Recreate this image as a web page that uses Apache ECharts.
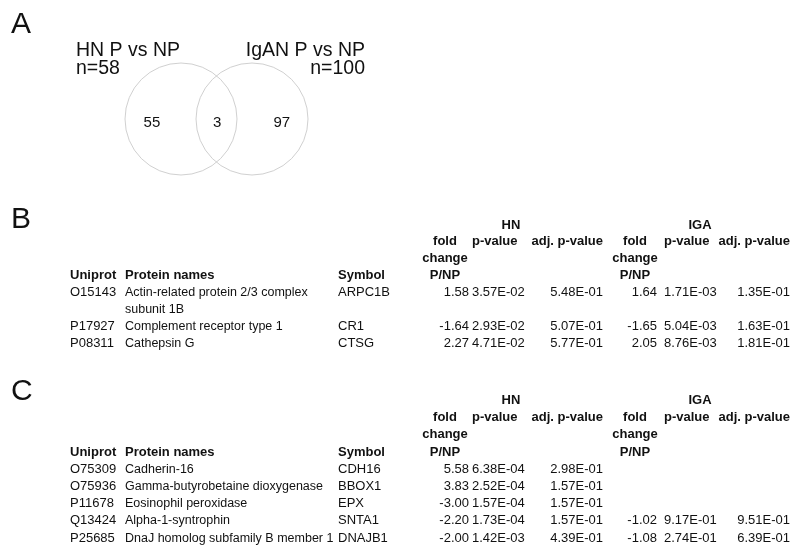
<!DOCTYPE html>
<html><head><meta charset="utf-8">
<script src="https://cdn.jsdelivr.net/npm/echarts@6/dist/echarts.min.js"></script>
<style>html,body{margin:0;padding:0;background:#fff}#c{width:795px;height:550px}</style>
</head><body><div id="c"></div>
<script>
// ---------- Venn data ----------
const vennSetNames = ['HN P vs NP', 'IgAN P vs NP'];
const vennSetSizes = [58, 100];
const vennRegionCounts = [55, 3, 97]; // HN only, shared, IgAN only

// ---------- Table B (shared proteins) ----------
const bUniprot = ['O15143', 'P17927', 'P08311'];
const bNames = [['Actin-related protein 2/3 complex', 'subunit 1B'], ['Complement receptor type 1'], ['Cathepsin G']];
const bSymbol = ['ARPC1B', 'CR1', 'CTSG'];
const bHnFold = [1.58, -1.64, 2.27];
const bHnP = [3.57e-2, 2.93e-2, 4.71e-2];
const bHnAdj = [5.48e-1, 5.07e-1, 5.77e-1];
const bIgaFold = [1.64, -1.65, 2.05];
const bIgaP = [1.71e-3, 5.04e-3, 8.76e-3];
const bIgaAdj = [1.35e-1, 1.63e-1, 1.81e-1];

// ---------- Table C ----------
const cUniprot = ['O75309', 'O75936', 'P11678', 'Q13424', 'P25685'];
const cNames = [['Cadherin-16'], ['Gamma-butyrobetaine dioxygenase'], ['Eosinophil peroxidase'], ['Alpha-1-syntrophin'], ['DnaJ homolog subfamily B member 1']];
const cSymbol = ['CDH16', 'BBOX1', 'EPX', 'SNTA1', 'DNAJB1'];
const cHnFold = [5.58, 3.83, -3.00, -2.20, -2.00];
const cHnP = [6.38e-4, 2.52e-4, 1.57e-4, 1.73e-4, 1.42e-3];
const cHnAdj = [2.98e-1, 1.57e-1, 1.57e-1, 1.57e-1, 4.39e-1];
const cIgaFold = [null, null, null, -1.02, -1.08];
const cIgaP = [null, null, null, 9.17e-1, 2.74e-1];
const cIgaAdj = [null, null, null, 9.51e-1, 6.39e-1];

// ---------- Header texts ----------
const groupHeaders = ['HN', 'IGA'];
const idHeaders = ['Uniprot', 'Protein names', 'Symbol'];
const foldHeaderLines = ['fold', 'change', 'P/NP'];
const pHeader = 'p-value';
const adjHeader = 'adj. p-value';
const panelLetters = ['A', 'B', 'C'];

// ---------- Layout ----------
const FONT = "'Liberation Sans', Arial, sans-serif";
const TXT = '#111111';
const FS = 13;
const FS_NAME = 12.5;
const COL = {uniprot: 70, name: 125, symbol: 338,
  hnFoldC: 445, hnFoldR: 469, hnP: 472, hnAdjR: 603,
  igaFoldC: 635, igaFoldR: 657, igaP: 664, igaAdjR: 790,
  hnGroup: 511, igaGroup: 700};
const TB = {first: 225, step: 16.9};
const TC = {first: 400.5, step: 17.2};

function fmtFold(v) { return v == null ? '' : v.toFixed(2); }
function fmtP(v) {
  if (v == null) return '';
  const parts = v.toExponential(2).split('e');
  const n = parseInt(parts[1], 10);
  return parts[0] + 'E' + (n < 0 ? '-' : '+') + String(Math.abs(n)).padStart(2, '0');
}

function buildCells(t) {
  const cells = [];
  const add = (x, line, text, align, bold, size) => {
    if (text === '') return;
    cells.push({value: [x, line], name: text,
      label: {align: align, fontWeight: bold ? 'bold' : 'normal', fontSize: size || FS}});
  };
  // header
  add(COL.hnGroup, 0, groupHeaders[0], 'center', true);
  add(COL.igaGroup, 0, groupHeaders[1], 'center', true);
  foldHeaderLines.forEach((s, i) => {
    add(COL.hnFoldC, 1 + i, s, 'center', true);
    add(COL.igaFoldC, 1 + i, s, 'center', true);
  });
  add(COL.hnP, 1, pHeader, 'left', true);
  add(COL.igaP, 1, pHeader, 'left', true);
  add(COL.hnAdjR, 1, adjHeader, 'right', true);
  add(COL.igaAdjR, 1, adjHeader, 'right', true);
  add(COL.uniprot, 3, idHeaders[0], 'left', true);
  add(COL.name, 3, idHeaders[1], 'left', true);
  add(COL.symbol, 3, idHeaders[2], 'left', true);
  let line = 4;
  t.uniprot.forEach((u, r) => {
    add(COL.uniprot, line, u, 'left', false);
    add(COL.symbol, line, t.symbol[r], 'left', false);
    add(COL.hnFoldR, line, fmtFold(t.hnFold[r]), 'right', false);
    add(COL.hnP, line, fmtP(t.hnP[r]), 'left', false);
    add(COL.hnAdjR, line, fmtP(t.hnAdj[r]), 'right', false);
    add(COL.igaFoldR, line, fmtFold(t.igaFold[r]), 'right', false);
    add(COL.igaP, line, fmtP(t.igaP[r]), 'left', false);
    add(COL.igaAdjR, line, fmtP(t.igaAdj[r]), 'right', false);
    t.names[r].forEach((nm, k) => add(COL.name, line + k, nm, 'left', false, FS_NAME));
    line += t.names[r].length;
  });
  return {cells: cells, lines: line};
}

const tabB = buildCells({uniprot: bUniprot, names: bNames, symbol: bSymbol, hnFold: bHnFold, hnP: bHnP, hnAdj: bHnAdj, igaFold: bIgaFold, igaP: bIgaP, igaAdj: bIgaAdj});
const tabC = buildCells({uniprot: cUniprot, names: cNames, symbol: cSymbol, hnFold: cHnFold, hnP: cHnP, hnAdj: cHnAdj, igaFold: cIgaFold, igaP: cIgaP, igaAdj: cIgaAdj});

function lineIds(n) { const a = []; for (let i = 0; i < n; i++) a.push(String(i)); return a; }

const grids = [
  {left: 0, width: 795, top: TB.first - TB.step / 2, height: tabB.lines * TB.step},
  {left: 0, width: 795, top: TC.first - TC.step / 2, height: tabC.lines * TC.step},
  {left: 110, width: 213, top: 69, height: 100}
];
const xAxes = [
  {gridIndex: 0, type: 'value', min: 0, max: 795, show: false},
  {gridIndex: 1, type: 'value', min: 0, max: 795, show: false},
  {gridIndex: 2, type: 'value', min: -1, max: 2, show: false}
];
const yAxes = [
  {gridIndex: 0, type: 'category', data: lineIds(tabB.lines), inverse: true, show: false},
  {gridIndex: 1, type: 'category', data: lineIds(tabC.lines), inverse: true, show: false},
  {gridIndex: 2, type: 'value', min: -1, max: 1, show: false}
];

function tableSeries(idx, cells) {
  return {
    type: 'scatter', xAxisIndex: idx, yAxisIndex: idx, silent: true, clip: false,
    symbolSize: 0, itemStyle: {color: 'rgba(0,0,0,0)'},
    label: {show: true, position: 'inside', formatter: '{b}', color: TXT, opacity: 1,
      textBorderWidth: 0, fontSize: FS, fontFamily: FONT, verticalAlign: 'middle'},
    data: cells
  };
}

// Venn layout positions (data units of the venn grid)
const vennCirclePos = [[0, 0], [1, 0]];
const vennCountPos = [[-0.41, -0.07], [0.51, -0.07], [1.42, -0.07]];

const series = [
  tableSeries(0, tabB.cells),
  tableSeries(1, tabC.cells),
  {
    type: 'scatter', xAxisIndex: 2, yAxisIndex: 2, silent: true, clip: false,
    symbol: 'circle', symbolSize: 112,
    itemStyle: {color: 'rgba(0,0,0,0)', borderColor: '#c4c4c4', borderWidth: 1},
    data: vennSetSizes.map((n, i) => ({value: vennCirclePos[i], name: vennSetNames[i]}))
  },
  {
    type: 'scatter', xAxisIndex: 2, yAxisIndex: 2, silent: true, clip: false,
    symbolSize: 0, itemStyle: {color: 'rgba(0,0,0,0)'},
    label: {show: true, position: 'inside', formatter: '{b}', color: TXT, opacity: 1, textBorderWidth: 0,
      fontSize: 15, fontFamily: FONT, verticalAlign: 'middle', align: 'center'},
    data: vennRegionCounts.map((c, i) => ({value: vennCountPos[i], name: String(c)}))
  }
];

function gtext(x, y, text, size, align) {
  return {type: 'text', x: x, y: y, silent: true,
    style: {text: text, fill: TXT, font: size + 'px ' + FONT, fontSize: size, fontFamily: FONT,
      align: align, textAlign: align, verticalAlign: 'middle', textVerticalAlign: 'middle'}};
}

const graphics = [
  gtext(11, 25, panelLetters[0], 30, 'left'),
  gtext(11, 220, panelLetters[1], 30, 'left'),
  gtext(11, 392, panelLetters[2], 30, 'left'),
  gtext(76, 51, vennSetNames[0], 19.5, 'left'),
  gtext(76, 69, 'n=' + vennSetSizes[0], 19.5, 'left'),
  gtext(365, 51, vennSetNames[1], 19.5, 'right'),
  gtext(365, 69, 'n=' + vennSetSizes[1], 19.5, 'right')
];

const chart = echarts.init(document.getElementById('c'), null, {renderer: 'canvas'});
chart.setOption({
  animation: false,
  backgroundColor: '#ffffff',
  grid: grids, xAxis: xAxes, yAxis: yAxes,
  series: series,
  graphic: graphics
});
</script></body></html>
